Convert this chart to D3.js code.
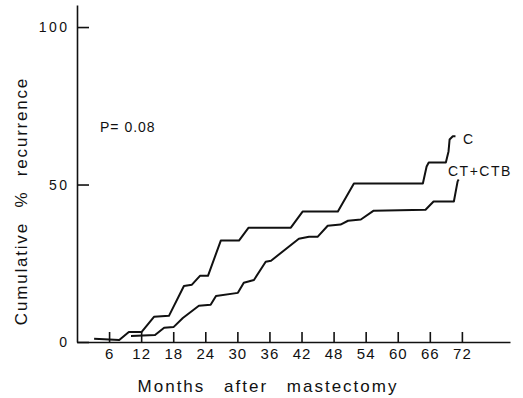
<!DOCTYPE html>
<html>
<head>
<meta charset="utf-8">
<script src="https://cdn.jsdelivr.net/npm/d3@7"></script>
<style>
  body { margin: 0; background: #fff; }
  svg { display: block; }
  .axis path, .axis line { stroke: #111; stroke-width: 1.6px; }
  .axis text { font-family: "Liberation Sans", Arial, sans-serif; fill: #111; }
  .curve { fill: none; stroke: #111; stroke-width: 2px; stroke-linejoin: round; }
  .lbl { font-family: "Liberation Sans", Arial, sans-serif; fill: #111; }
</style>
</head>
<body>
<div id="chart"></div>
<script>
// months after mastectomy
var xTicks = [6, 12, 18, 24, 30, 36, 42, 48, 54, 60, 66, 72];
var yTicks = [0, 50, 100];

// group C: [month, cumulative %]
var cMonths = [3.2, 7.9, 9.7, 12.1, 14.4, 17.2, 20.0, 21.5, 23.0, 24.5, 26.9, 30.3, 32.1, 40.0, 42.2, 48.8, 51.8, 64.7, 65.4, 65.8, 69.0, 69.5, 69.7, 70.3, 70.8];
var cValues = [1.0, 0.6, 3.2, 3.2, 8.0, 8.3, 17.8, 18.2, 21.0, 21.0, 32.2, 32.2, 36.3, 36.3, 41.4, 41.4, 50.3, 50.3, 55.7, 57.0, 57.0, 60.5, 64.3, 65.3, 65.3];

// group CT+CTB
var ctMonths = [10.1, 14.6, 16.3, 18.1, 19.8, 22.8, 25.0, 26.0, 30.1, 31.2, 33.1, 35.3, 36.3, 41.5, 43.4, 45.0, 46.9, 49.3, 50.7, 53.1, 55.5, 65.2, 66.7, 70.5, 71.2, 71.4];
var ctValues = [1.9, 2.2, 4.5, 4.8, 7.6, 11.5, 11.8, 14.6, 15.6, 18.8, 19.7, 25.5, 25.8, 32.8, 33.4, 33.4, 36.9, 37.3, 38.5, 38.9, 41.7, 42.0, 44.6, 44.6, 51.0, 51.6];

var svg = d3.select("#chart").append("svg").attr("width", 523).attr("height", 398);

var x = d3.scaleLinear().domain([0, 81]).range([77, 510]);
var y = d3.scaleLinear().domain([0, 107]).range([342, 5]);

// x axis, ticks pointing up
var gx = svg.append("g")
        .attr("class", "axis")
        .attr("transform", "translate(0," + y(0) + ")")
        .call(d3.axisBottom(x).tickValues(xTicks).tickSizeInner(-10).tickSizeOuter(0).tickPadding(6));
gx.selectAll("text").style("font-size", "15px").style("letter-spacing", "1px");

// y axis, ticks pointing right
var gy = svg.append("g")
        .attr("class", "axis")
        .attr("transform", "translate(" + x(0) + ",0)")
        .call(d3.axisLeft(y).tickValues(yTicks).tickSizeInner(-12).tickSizeOuter(0).tickPadding(10));
gy.selectAll("text").style("font-size", "14px").style("letter-spacing", "2.5px").attr("dx", "2.5px");

var line = d3.line()
        .x(function (d) { return x(d[0]); })
        .y(function (d) { return y(d[1]); });

svg.append("path")
        .datum(d3.zip(cMonths, cValues))
        .attr("class", "curve")
        .attr("d", line);

svg.append("path")
        .datum(d3.zip(ctMonths, ctValues))
        .attr("class", "curve")
        .attr("d", line);

// series labels
svg.append("text").attr("class", "lbl")
        .attr("x", x(72.2)).attr("y", y(63))
        .style("font-size", "14px")
        .text("C");
svg.append("text").attr("class", "lbl")
        .attr("x", x(69.4)).attr("y", y(52.6))
        .style("font-size", "14px").style("letter-spacing", "1.5px")
        .text("CT+CTB");

svg.append("text").attr("class", "lbl")
        .attr("x", 100).attr("y", 132)
        .style("font-size", "14px").style("letter-spacing", "1px")
        .text("P= 0.08");

// axis titles
svg.append("text").attr("class", "lbl")
        .attr("x", 268).attr("y", 392)
        .attr("text-anchor", "middle")
        .style("font-size", "17px").style("letter-spacing", "2px").style("word-spacing", "12px")
        .text("Months after mastectomy");

svg.append("text").attr("class", "lbl")
        .attr("transform", "translate(27,201) rotate(-90)")
        .attr("text-anchor", "middle")
        .style("font-size", "17px").style("letter-spacing", "1.8px").style("word-spacing", "8px")
        .text("Cumulative % recurrence");
</script>
</body>
</html>
